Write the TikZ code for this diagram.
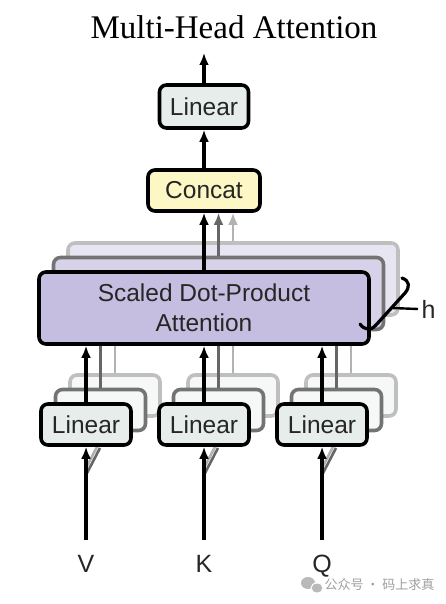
\documentclass[tikz,border=0pt]{standalone}
\usepackage{fontspec}
\setmainfont{Liberation Serif}
\setsansfont{Liberation Sans}
\newfontfamily\cjk{Noto Sans CJK SC}
\usetikzlibrary{arrows.meta}
\definecolor{linfill}{HTML}{E6EDEB}
\definecolor{catfill}{HTML}{FCF7C4}
\definecolor{attfill}{HTML}{C6BEE0}
\begin{document}
\begin{tikzpicture}[x=1pt,y=-1pt,
	box/.style={draw, line width=3.6pt, rounded corners=7pt, inner sep=0pt, text=black!85,
		font=\sffamily\fontsize{24.5}{30}\selectfont},
	lin/.style={box, fill=linfill, minimum width=90pt, minimum height=41pt},
	att/.style={box, fill=attfill, minimum width=330pt, minimum height=72pt, align=center},
	arr/.style={-{Latex[length=12pt,width=10pt]}, line width=3.2pt},
	lbl/.style={font=\sffamily\fontsize{25}{30}\selectfont, text=black!85}]
	\useasboundingbox (0,0) rectangle (446,604);
	% title and output side
	\node (title) [anchor=base, font=\fontsize{33}{38}\selectfont] at (234,39) {Multi-Head Attention};
	\coordinate (out) at (204,53);
	\node (linTop) [lin, minimum width=89pt, minimum height=43pt] at (204,106.5) {Linear};
	\node (concat) [box, fill=catfill, minimum width=112pt, minimum height=41pt] at (204,190.5) {Concat};
	\draw[arr] (linTop) -- (out);
	\draw[arr] (concat) -- (linTop);
	% inputs
	\coordinate (inV) at (86,540);
	\coordinate (inK) at (204,540);
	\coordinate (inQ) at (322,540);
	% stacked heads, back to front
	\foreach \k/\bc/\af/\lf in {2/black!25/black!30/white!60!attfill, 1/black!55/black!60/white!30!attfill}{
		\draw[\af, line width=2.6pt] ([yshift={58+7*\k}]inV) -- +({14*\k},{-27*\k});
		\draw[\af, line width=2.6pt] ([yshift={58+7*\k}]inK) -- +({14*\k},{-27*\k});
		\draw[\af, line width=2.6pt] ([yshift={58+7*\k}]inQ) -- +({14*\k},{-27*\k});
		\node (att\k) [att, draw=\bc, fill=\lf] at ({204+14.5*\k},{308-14.5*\k}) {};
		\draw[arr, \af, line width=2.6pt] (att\k.north) -- (att\k.north |- concat.south);
		\foreach \n/\x in {V/86,K/204,Q/322}{
			\node (lin\n\k) [lin, draw=\bc, fill=white!60!linfill] at ({\x+14.5*\k},{424.5-14.5*\k}) {};
			\draw[\af, line width=2.8pt] (lin\n\k.north) -- (lin\n\k.north |- att\k.south);
		}
	}
	% front head
	\node (att) [att] at (204,308) {Scaled Dot-Product\\Attention};
	\draw[arr] (att) -- (concat);
	\node (linV) [lin] at (86,424.5) {Linear};
	\node (linK) [lin] at (204,424.5) {Linear};
	\node (linQ) [lin] at (322,424.5) {Linear};
	\draw[arr] (inV) -- (linV);
	\draw[arr] (inK) -- (linK);
	\draw[arr] (inQ) -- (linQ);
	\draw[arr] (linV) -- (linV |- att.south);
	\draw[arr] (linK) -- (linK |- att.south);
	\draw[arr] (linQ) -- (linQ |- att.south);
	\node (v) [lbl, anchor=base] at (86,572) {V};
	\node (k) [lbl, anchor=base] at (204,572) {K};
	\node (q) [lbl, anchor=base] at (322,572) {Q};
	% number of heads
	\draw[line width=3.2pt, line cap=round] (402,278) .. controls (410,281) and (410,287) .. (405,293)
		-- (376,325) .. controls (371,331) and (364,330) .. (360,324);
	\coordinate (hTick) at (392,308);
	\node (h) [lbl, anchor=west] at (418,309) {h};
	\draw[line width=2.4pt] (hTick) -- (h.west);
	% watermark
	\fill[gray!55] (308,583) ellipse (7pt and 6pt);
	\fill[gray!55, draw=white, line width=1pt] (317,588) ellipse (6pt and 5pt);
	\node (wm) [anchor=west, text=gray!75, font=\cjk\fontsize{13}{15}\selectfont] at (321,585) {公众号 · 码上求真};
\end{tikzpicture}
\end{document}
